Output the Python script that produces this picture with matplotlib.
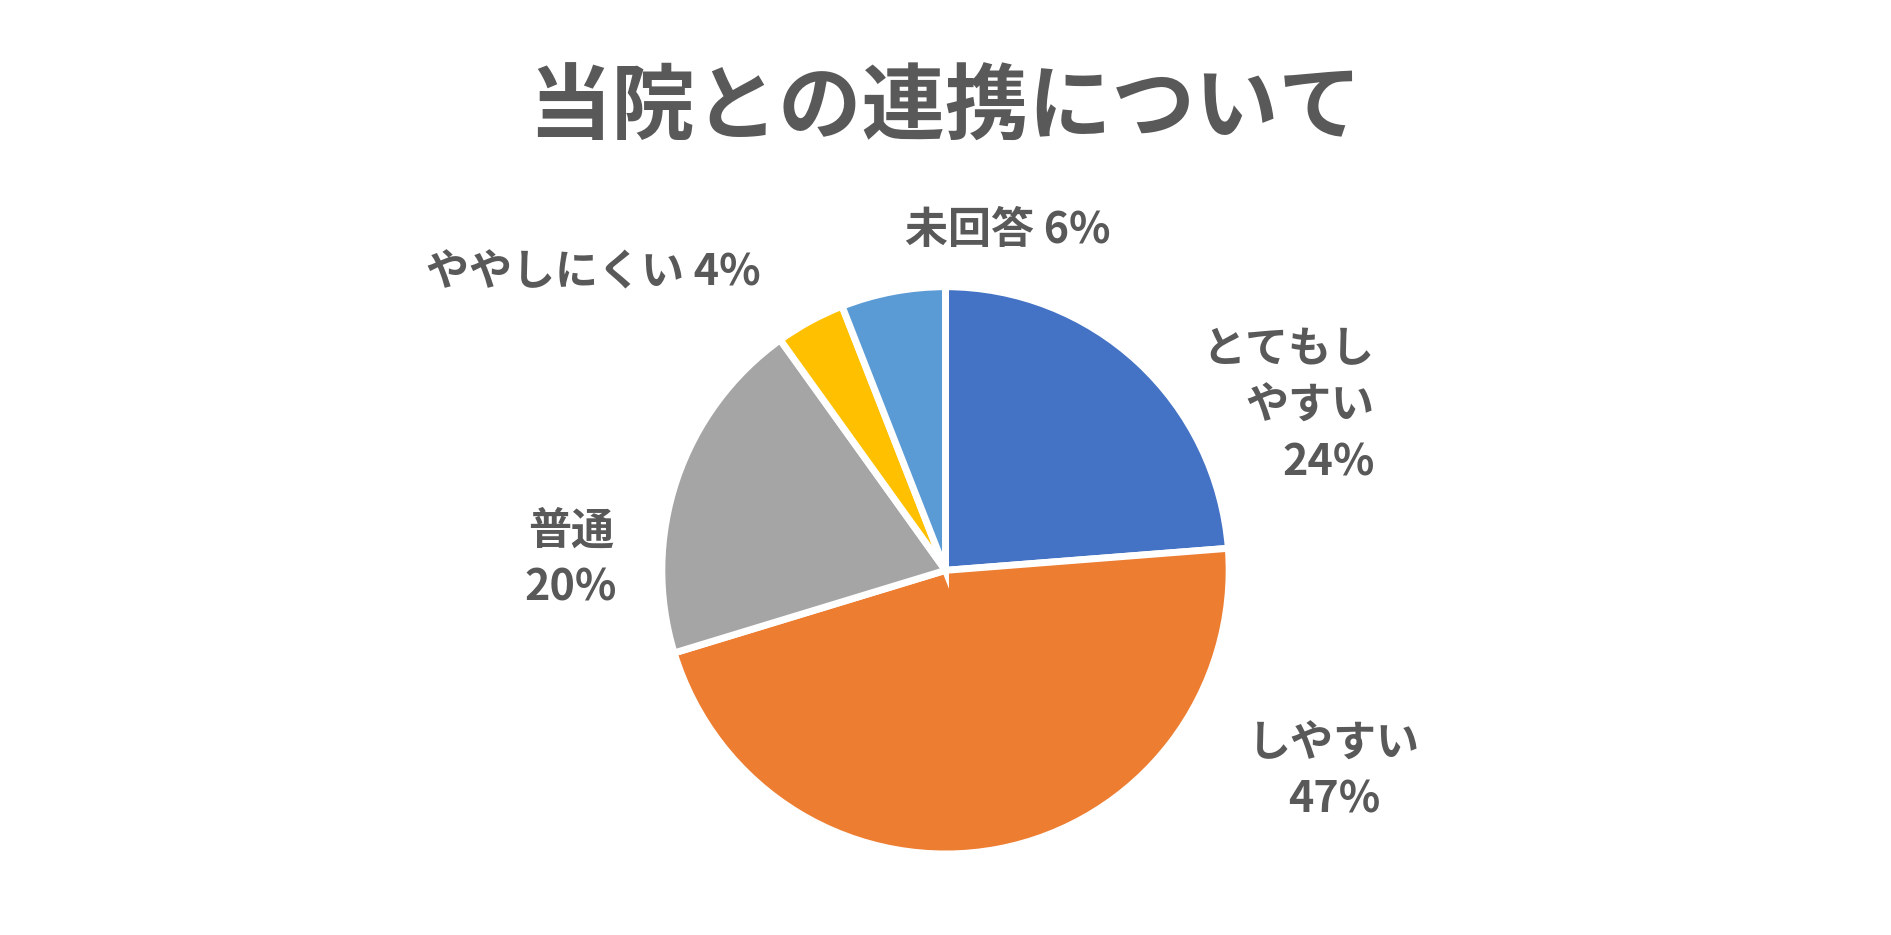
import matplotlib.pyplot as plt

plt.rcParams['font.family'] = ['Noto Sans CJK JP', 'DejaVu Sans']

labels = ['とてもし\nやすい\n24%', 'しやすい\n47%', '普通\n20%', 'ややしにくい 4%', '未回答 6%']
values = [24, 47, 20, 4, 6]
colors = ['#4472C4', '#ED7D31', '#A5A5A5', '#FFC000', '#5B9BD5']
label_pos = [(1.21, 0.58), (1.37, -0.71), (-1.32, 0.04), (-1.24, 1.05), (0.22, 1.20)]
label_align = ['right', 'center', 'center', 'center', 'center']

fig = plt.figure(figsize=(18.91, 9.35), dpi=100)
ax = fig.add_axes([0.35, 0.086, 0.30, 0.608])
ax.pie(values, colors=colors, startangle=90, counterclock=False,
       wedgeprops=dict(edgecolor='white', linewidth=5))
ax.set_xlim(-1, 1)
ax.set_ylim(-1, 1)
ax.set_aspect('equal')

for lab, (x, y), al in zip(labels, label_pos, label_align):
    ax.text(x, y, lab, ha='center', va='center', multialignment=al,
            fontsize=31, fontweight='bold', color='#595959', linespacing=1.35,
            clip_on=False)

fig.text(0.5, 0.883, '当院との連携について', ha='center', va='center',
         fontsize=60, fontweight='bold', color='#595959')

fig.savefig('out.png', dpi=100, facecolor='white')
